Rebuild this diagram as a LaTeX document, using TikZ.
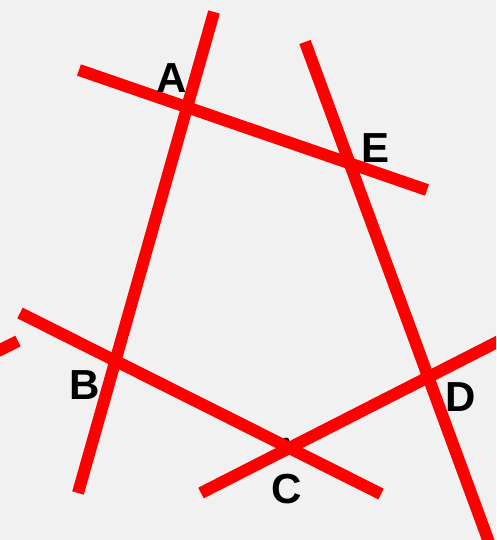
\documentclass[tikz,border=0pt]{standalone}
\usepackage{fontspec}
\setmainfont{Liberation Sans}
\begin{document}
\begin{tikzpicture}[x=1pt,y=-1pt,
  redline/.style={draw=red,line width=12pt,line cap=butt},
  lbl/.style={font=\bfseries\fontsize{42}{42}\selectfont,text=black,inner sep=0pt},
  dotmark/.style={fill=black,circle,inner sep=0pt,minimum size=7pt}]
\fill[fill={rgb,255:red,241;green,241;blue,241}] (0,0) rectangle (496,540);
\useasboundingbox (0,0) rectangle (496,540);
\clip (0,0) rectangle (496,540);
% intersection points
\coordinate (A) at (184,108);
\coordinate (B) at (115,362);
\coordinate (C) at (287,445);
\coordinate (D) at (430,377);
\coordinate (E) at (350,165);
% line ends
\coordinate (a1) at (214,12);  \coordinate (a2) at (78,493);
\coordinate (b1) at (79,70);   \coordinate (b2) at (427,190);
\coordinate (c1) at (305,42);  \coordinate (c2) at (490,545);
\coordinate (d1) at (20,313);  \coordinate (d2) at (381,494);
\coordinate (e1) at (201,493); \coordinate (e2) at (505,338);
\coordinate (f1) at (-5,352.5); \coordinate (f2) at (18,341);
% small dots under the lines
\node[dotmark] at ([shift={(-2,-3)}]A) {};
\node[dotmark] at ([shift={(-3,2)}]B) {};
\node[dotmark] at ([shift={(-1,-4)}]C) {};
\node[dotmark] at ([shift={(1,-3)}]E) {};
% lines
\draw[redline] (a1) -- (a2);
\draw[redline] (b1) -- (b2);
\draw[redline] (c1) -- (c2);
\draw[redline] (d1) -- (d2);
\draw[redline] (e1) -- (e2);
\draw[redline] (f1) -- (f2);
% labels
\node[lbl] (lA) at (172,78) {A};
\node[lbl] (lE) at (376,148) {E};
\node[lbl] (lB) at (85,385) {B};
\node[lbl] (lC) at (287,489) {C};
\node[lbl] (lD) at (461,397) {D};
\end{tikzpicture}
\end{document}
